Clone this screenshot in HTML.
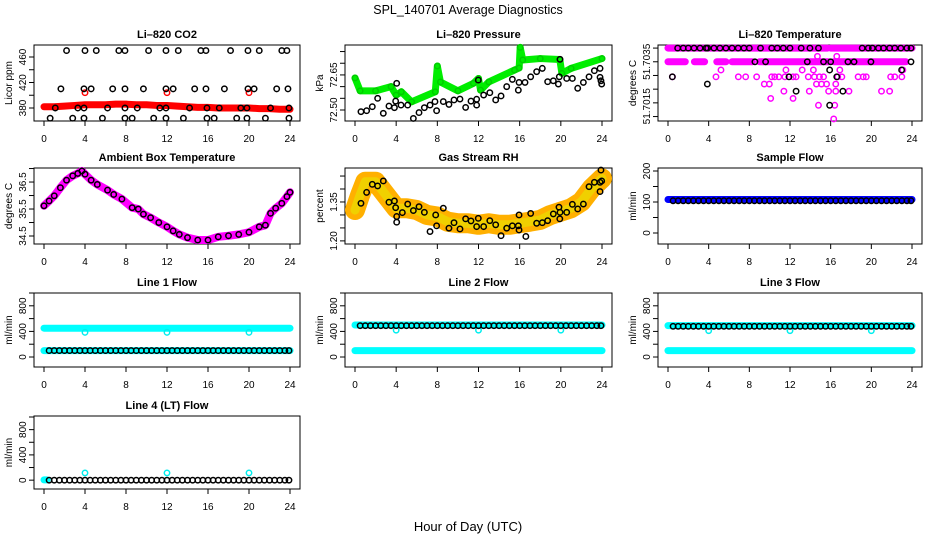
<!DOCTYPE html>
<html><head><meta charset="utf-8"><title>SPL_140701 Average Diagnostics</title>
<style>
html,body{margin:0;padding:0;background:#fff;}
svg{display:block;font-family:"Liberation Sans",Arial,sans-serif;}
</style></head>
<body>
<svg id="chart" width="936" height="540" viewBox="0 0 936 540" xmlns="http://www.w3.org/2000/svg">
<rect x="0" y="0" width="936" height="540" fill="#fff"/>
<text x="468" y="14" font-size="12.5" text-anchor="middle">SPL_140701  Average Diagnostics</text>
<text x="468" y="531" font-size="13" text-anchor="middle">Hour of Day (UTC)</text>
</svg>
<script>
// ---------- DATA ----------
// CO2
const co2RedHours = [0,1,2,3,4,5,6,7,8,9,10,11,12,13,14,15,16,17,18,19,20,21,22,23,24];
const co2RedVals = [382,382,383,384,385,385,385,386,386,385,385,384,384,383,382,381,381,380,380,380,380,379,379,378,378];
const co2RedPtHours = [4,12,20];
const co2RedPtVals = [404,404,404];
const co2BlackHours = [2.2,4.0,5.1,7.3,7.9,10.2,11.9,13.1,15.3,15.8,18.2,19.9,21.0,23.2,23.7,
 1.65,3.9,4.6,6.7,7.9,9.7,11.9,12.6,14.7,15.8,17.6,19.9,20.5,22.7,23.8,
 1.1,3.3,3.9,6.2,7.9,9.1,11.3,11.9,14.2,15.9,17.1,19.2,19.8,22.1,23.9,
 0.6,2.8,3.9,5.7,7.9,8.6,10.7,11.9,13.6,15.9,16.6,18.8,19.8,21.6,23.9];
const co2BlackVals = [470,470,470,470,470,470,470,470,470,470,470,470,470,470,470,
 410,410,410,410,410,410,410,410,410,410,410,410,410,410,410,
 380,380,380,380,380,380,380,380,380,380,380,380,380,380,380,
 364,364,364,364,364,364,364,364,364,364,364,364,364,364,364];
// Pressure
const presGreenHours = [0,0.5,2,3.5,4,4.5,5.5,7.8,8.0,8.3,10,11.5,12,12.2,13,15.5,15.95,16.05,16.3,18,19.9,20.1,21,24];
const presGreenVals = [72.637,72.582,72.582,72.60,72.564,72.578,72.535,72.578,72.688,72.62,72.582,72.614,72.635,72.585,72.62,72.671,72.68,72.768,72.714,72.72,72.716,72.657,72.678,72.72];
const presBlackHours = [0.58,1.13,1.68,2.2,2.75,3.3,3.83,3.95,4.05,4.47,5.12,5.67,6.22,6.74,7.29,7.77,7.93,8.58,9.13,9.62,10.2,10.75,11.27,11.82,11.82,11.98,12.5,13.1,13.67,14.19,14.74,15.29,15.87,15.94,16.52,17.07,17.65,18.2,18.72,19.27,19.76,19.85,19.92,20.57,21.12,21.64,22.19,22.74,23.26,23.81,23.81,23.9,23.97];
const presBlackVals = [72.493,72.497,72.514,72.550,72.486,72.517,72.510,72.538,72.614,72.521,72.521,72.464,72.489,72.510,72.521,72.536,72.497,72.536,72.524,72.543,72.547,72.511,72.538,72.521,72.546,72.628,72.564,72.574,72.543,72.560,72.600,72.631,72.585,72.618,72.618,72.642,72.664,72.678,72.621,72.625,72.611,72.642,72.717,72.635,72.635,72.593,72.618,72.642,72.668,72.678,72.640,72.625,72.611];
// Temperature
const tempBandStart = [0,16.0,0,2.6,4.8,6.3,9.0,16.3];
const tempBandEnd = [15.7,24,1.7,3.6,5.7,8.3,15.8,23.4];
const tempBandVals = [51.7035,51.7035,51.7031,51.7031,51.7031,51.7031,51.7031,51.7031];
const tempPinkHours = [0.43,4.72,5.21,6.92,7.64,8.72,9.47,9.97,10.1,10.2,10.5,10.9,11.4,11.6,11.5,12.3,12.3,12.6,13.2,13.8,13.9,14.3,14.4,14.6,14.7,14.8,14.9,15.1,15.3,15.6,15.8,16.3,16.4,16.5,16.5,16.6,16.7,16.9,17.1,17.8,18.7,19.2,19.5,21.0,21.8,21.9,22.3,23.0,23.1];
const tempPinkVals = [51.70266,51.70266,51.70286,51.70266,51.70266,51.70266,51.70245,51.70245,51.70203,51.70266,51.70266,51.70266,51.70224,51.70286,51.70266,51.70266,51.70203,51.70266,51.70286,51.70266,51.70224,51.70286,51.70266,51.70245,51.70326,51.70183,51.70266,51.70245,51.70266,51.70245,51.70224,51.70143,51.70183,51.70245,51.70224,51.70326,51.70266,51.70286,51.70266,51.70224,51.70266,51.70266,51.70266,51.70224,51.70224,51.70266,51.70266,51.70266,51.70286];
const tempBlackHours = [0.95,1.5,2.0,2.56,3.15,3.74,3.9,4.52,5.11,5.7,6.3,6.9,7.47,8.0,9.1,10.2,10.75,11.34,12.0,13.1,13.96,14.8,19.1,19.7,20.1,20.7,21.2,21.8,22.3,22.9,23.5,23.9,
 0.43,3.87,8.55,9.6,11.9,12.6,13.7,15.3,15.9,16.0,15.9,16.6,17.2,17.7,18.3,19.96,22.98,23.9];
const tempBlackVals = [51.7035,51.7035,51.7035,51.7035,51.7035,51.7035,51.7035,51.7035,51.7035,51.7035,51.7035,51.7035,51.7035,51.7035,51.7035,51.7035,51.7035,51.7035,51.7035,51.7035,51.7035,51.7035,51.7035,51.7035,51.7035,51.7035,51.7035,51.7035,51.7035,51.7035,51.7035,51.7035,
 51.70266,51.70245,51.7031,51.7031,51.70266,51.70224,51.7031,51.7031,51.70286,51.7031,51.70183,51.70266,51.70224,51.7031,51.7031,51.7031,51.70286,51.7031];
// Ambient box temperature
const ambHours = [0,0.5,1,1.6,2.2,2.8,3.3,3.7,4.0,4.6,5.2,6.2,6.8,7.6,8.6,9.2,9.7,10.4,11.2,12,12.6,13.2,14,15,16,17,18,19,20,21,21.6,22.1,22.6,23.2,23.7,24];
const ambVals = [35.62,35.80,35.99,36.29,36.57,36.73,36.82,36.91,36.79,36.57,36.41,36.20,36.04,35.87,35.55,35.50,35.31,35.18,35.0,34.84,34.69,34.56,34.44,34.35,34.35,34.47,34.51,34.56,34.64,34.84,34.90,35.34,35.53,35.71,35.96,36.12];
// Gas stream RH
const rhBandHours = [0,0.5,1,2,3,4,5,6,7,8,9,10,11,12,13,14,15,16,17,18,19,20,21,22,23,24];
const rhBandVals = [1.319,1.377,1.428,1.428,1.377,1.326,1.326,1.319,1.30,1.294,1.274,1.268,1.268,1.262,1.268,1.262,1.262,1.268,1.274,1.281,1.30,1.313,1.326,1.351,1.403,1.441];
const rhBlackHours = [0.58,1.13,1.68,2.2,2.75,3.3,3.83,3.95,4.05,4.05,4.6,5.12,5.67,6.22,6.74,7.29,7.84,7.93,8.58,9.13,9.62,10.2,10.75,11.27,11.82,11.98,12.5,13.1,13.67,14.19,14.74,15.29,15.87,15.94,15.94,16.6,17.07,17.65,18.2,18.72,19.27,19.82,19.9,19.92,20.57,21.12,21.64,22.19,22.74,23.26,23.81,23.9,23.97,23.81];
const rhBlackVals = [1.345,1.387,1.418,1.412,1.431,1.349,1.354,1.328,1.294,1.272,1.309,1.342,1.317,1.332,1.310,1.236,1.300,1.258,1.326,1.249,1.270,1.246,1.285,1.277,1.255,1.287,1.255,1.278,1.262,1.220,1.249,1.258,1.258,1.242,1.300,1.217,1.306,1.268,1.270,1.278,1.304,1.330,1.285,1.310,1.310,1.341,1.323,1.342,1.409,1.426,1.426,1.473,1.431,1.390];
// Flows (shared hourly sample times)
const flowHours = [0.5,1,1.5,2,2.5,3,3.5,4,4.5,5,5.5,6,6.5,7,7.5,8,8.5,9,9.5,10,10.5,11,11.5,12,12.5,13,13.5,14,14.5,15,15.5,16,16.5,17,17.5,18,18.5,19,19.5,20,20.5,21,21.5,22,22.5,23,23.5,23.9];
const sampleBlack = [104,104,104,104,104,104,104,104,104,104,104,104,104,104,104,104,104,104,104,104,104,104,104,104,104,104,104,104,104,104,104,104,104,104,104,104,104,104,104,104,104,104,104,104,104,104,104,104];
const line1Black = [100,100,100,100,100,100,100,100,100,100,100,100,100,100,100,100,100,100,100,100,100,100,100,100,100,100,100,100,100,100,100,100,100,100,100,100,100,100,100,100,100,100,100,100,100,100,100,100];
const line2Black = [490,490,490,490,490,490,490,490,490,490,490,490,490,490,490,490,490,490,490,490,490,490,490,490,490,490,490,490,490,490,490,490,490,490,490,490,490,490,490,490,490,490,490,490,490,490,490,490];
const line3Black = [480,480,480,480,480,480,480,480,480,480,480,480,480,480,480,480,480,480,480,480,480,480,480,480,480,480,480,480,480,480,480,480,480,480,480,480,480,480,480,480,480,480,480,480,480,480,480,480];
const line4Black = [0,0,0,0,0,0,0,0,0,0,0,0,0,0,0,0,0,0,0,0,0,0,0,0,0,0,0,0,0,0,0,0,0,0,0,0,0,0,0,0,0,0,0,0,0,0,0,0];
const sampleBandStart = [0]; const sampleBandEnd = [24]; const sampleBandVals = [108];
const line1BandStart = [0,0]; const line1BandEnd = [24,24]; const line1BandVals = [450,100];
const line2BandStart = [0,0]; const line2BandEnd = [24,24]; const line2BandVals = [500,100];
const line3BandStart = [0,0]; const line3BandEnd = [24,24]; const line3BandVals = [490,100];
const line4BandStart = [0]; const line4BandEnd = [0.3]; const line4BandVals = [5];
const calHours = [4,12,20];
const line1Cal = [385,385,385];
const line2Cal = [420,420,420];
const line3Cal = [412,412,412];
const line4Cal = [115,115,115];
const xTicks = [0,4,8,12,16,20,24];

// ---------- DRAWING ----------
const NS = 'http://www.w3.org/2000/svg';
const svg = document.getElementById('chart');
function mk(tag, attrs, parent){
  const e = document.createElementNS(NS, tag);
  for (const k in attrs) e.setAttribute(k, attrs[k]);
  (parent || svg).appendChild(e);
  return e;
}
const cols = [[34,300],[345,612],[658,922]];
const rows = [[45,121],[168,244],[293,367],[416,489]];

function panel(cfg){
  const [L,R] = cols[cfg.col]; const [T,B] = rows[cfg.row];
  const g = mk('g', {});
  
  
  const sx = h => (L+10) + h*(R-L-20)/24;
  const sy = v => B - (v - cfg.ydom[0])*(B-T)/(cfg.ydom[1]-cfg.ydom[0]);
  const box = mk('rect', {x:L, y:T, width:R-L, height:B-T, fill:'none', stroke:'#000', 'stroke-width':1}, g);
  
  
  const title = mk('text', {x:(L+R)/2, y:T-7, 'font-size':11, 'font-weight':'bold', 'text-anchor':'middle'}, g);
  title.textContent = cfg.title;
  
  
  xTicks.forEach(t => {
    const tk = mk('line', {x1:sx(t), x2:sx(t), y1:B, y2:B+5, stroke:'#000'}, g);
    
    
    const tl = mk('text', {x:sx(t), y:B+21, 'font-size':10, 'text-anchor':'middle'}, g);
    tl.textContent = t;
    
    
  });
  cfg.yticks.forEach(v => {
    const tk = mk('line', {x1:L-5, x2:L, y1:sy(v), y2:sy(v), stroke:'#000'}, g);
    
    
  });
  cfg.ylabelVals.forEach((v,i) => {
    const y = sy(v);
    const tl = mk('text', {x:L-8, y:y, 'font-size':10, 'text-anchor':'middle', transform:'rotate(-90 '+(L-8)+' '+y+')'}, g);
    tl.textContent = cfg.ylabelText[i];
    
    
  });
  const cy = (T+B)/2;
  const yl = mk('text', {x:L-22, y:cy, 'font-size':10, 'text-anchor':'middle', transform:'rotate(-90 '+(L-22)+' '+cy+')'}, g);
  yl.textContent = cfg.ylab;
  
  
  const clipId = 'clip-' + cfg.name;
  const cp = mk('clipPath', {id:clipId}, g);
  mk('rect', {x:L, y:T-4, width:R-L, height:B-T+8}, cp);
  const plot = mk('g', {'clip-path':'url(#'+clipId+')'}, g);
  return {sx, sy, g:plot};
}
function points(p, hrs, vals, color, name){
  hrs.forEach((h,i) => {
    const c = mk('circle', {cx:p.sx(h), cy:p.sy(vals[i]), r:2.7, fill:'none', stroke:color, 'stroke-width':1.5}, p.g);
    
    
  });
}
function band(p, hrs, vals, color, w, name){
  const pts = hrs.map((h,i) => p.sx(h)+','+p.sy(vals[i])).join(' ');
  const pl = mk('polyline', {points:pts, fill:'none', stroke:color, 'stroke-width':w, 'stroke-linecap':'round', 'stroke-linejoin':'round'}, p.g);
  
  
}
function segs(p, st, en, vals, color, w, name){
  st.forEach((s,i) => {
    const l = mk('line', {x1:p.sx(s), x2:p.sx(en[i]), y1:p.sy(vals[i]), y2:p.sy(vals[i]), stroke:color, 'stroke-width':w, 'stroke-linecap':'round'}, p.g);
    
    
  });
}

// Panel 1: CO2
const p1 = panel({name:'co2', col:0, row:0, title:'Li\u2013820 CO2', ylab:'Licor ppm', ydom:[359.6,478.8], yticks:[380,400,420,440,460], ylabelVals:[380,420,460], ylabelText:['380','420','460']});
band(p1, co2RedHours, co2RedVals, '#ff0000', 7, 'co2-raw-band');
points(p1, co2RedPtHours, co2RedPtVals, '#ff0000', 'co2-raw-point');
points(p1, co2BlackHours, co2BlackVals, '#000', 'co2-average-point');

// Panel 2: Pressure
const p2 = panel({name:'pressure', col:1, row:0, title:'Li\u2013820 Pressure', ylab:'kPa', ydom:[72.453,72.778], yticks:[72.50,72.55,72.60,72.65,72.70,72.75], ylabelVals:[72.50,72.65], ylabelText:['72.50','72.65']});
band(p2, presGreenHours, presGreenVals, '#00ee00', 7, 'pressure-raw-band');
points(p2, presGreenHours, presGreenVals, '#00cc00', 'pressure-raw-point');
points(p2, presBlackHours, presBlackVals, '#000', 'pressure-average-point');

// Panel 3: Temperature
const p3 = panel({name:'temperature', col:2, row:0, title:'Li\u2013820 Temperature', ylab:'degrees C', ydom:[51.70137,51.70359], yticks:[51.7035,51.7031,51.7027,51.7023,51.7019,51.7015], ylabelVals:[51.7031,51.7018], ylabelText:['51.7035','51.7015']});
segs(p3, tempBandStart, tempBandEnd, tempBandVals, '#ff00ff', 7, 'temperature-raw-band');
points(p3, tempPinkHours, tempPinkVals, '#ff00ff', 'temperature-raw-point');
points(p3, tempBlackHours, tempBlackVals, '#000', 'temperature-average-point');

// Panel 4: Ambient
const p4 = panel({name:'ambient', col:0, row:1, title:'Ambient Box Temperature', ylab:'degrees C', ydom:[34.204,37.02], yticks:[34.5,35,35.5,36,36.5,37], ylabelVals:[34.5,35.5,36.5], ylabelText:['34.5','35.5','36.5']});
band(p4, ambHours, ambVals, '#ff00ff', 8, 'ambient-raw-band');
points(p4, ambHours, ambVals, '#000', 'ambient-average-point');

// Panel 5: RH
const p5 = panel({name:'rh', col:1, row:1, title:'Gas Stream RH', ylab:'percent', ydom:[1.188,1.481], yticks:[1.20,1.25,1.30,1.35,1.40,1.45], ylabelVals:[1.20,1.35], ylabelText:['1.20','1.35']});
band(p5, rhBandHours, rhBandVals, '#ffb000', 20, 'rh-raw-band');
band(p5, rhBandHours, rhBandVals, '#f0d000', 9, 'rh-raw-band-core');
points(p5, rhBlackHours, rhBlackVals, '#000', 'rh-average-point');

// Panel 6: Sample flow
const p6 = panel({name:'sample-flow', col:2, row:1, title:'Sample Flow', ylab:'ml/min', ydom:[-35.5,209.7], yticks:[0,50,100,150,200], ylabelVals:[0,100,200], ylabelText:['0','100','200']});
segs(p6, sampleBandStart, sampleBandEnd, sampleBandVals, '#0000ff', 7, 'sample-flow-raw-band');
points(p6, flowHours, sampleBlack, '#000', 'sample-flow-average-point');

// Panels 7-10: Line flows
const flowTicks = [0,200,400,600,800,1000];
const p7 = panel({name:'line1-flow', col:0, row:2, title:'Line 1 Flow', ylab:'ml/min', ydom:[-156,1000], yticks:flowTicks, ylabelVals:[0,400,800], ylabelText:['0','400','800']});
segs(p7, line1BandStart, line1BandEnd, line1BandVals, '#00ffff', 7, 'line1-raw-band');
points(p7, calHours, line1Cal, '#00eeee', 'line1-cal-point');
points(p7, flowHours, line1Black, '#000', 'line1-average-point');

const p8 = panel({name:'line2-flow', col:1, row:2, title:'Line 2 Flow', ylab:'ml/min', ydom:[-156,1000], yticks:flowTicks, ylabelVals:[0,400,800], ylabelText:['0','400','800']});
segs(p8, line2BandStart, line2BandEnd, line2BandVals, '#00ffff', 7, 'line2-raw-band');
points(p8, calHours, line2Cal, '#00eeee', 'line2-cal-point');
points(p8, flowHours, line2Black, '#000', 'line2-average-point');

const p9 = panel({name:'line3-flow', col:2, row:2, title:'Line 3 Flow', ylab:'ml/min', ydom:[-156,1000], yticks:flowTicks, ylabelVals:[0,400,800], ylabelText:['0','400','800']});
segs(p9, line3BandStart, line3BandEnd, line3BandVals, '#00ffff', 7, 'line3-raw-band');
points(p9, calHours, line3Cal, '#00eeee', 'line3-cal-point');
points(p9, flowHours, line3Black, '#000', 'line3-average-point');

const p10 = panel({name:'line4-flow', col:0, row:3, title:'Line 4 (LT) Flow', ylab:'ml/min', ydom:[-140,1016], yticks:flowTicks, ylabelVals:[0,400,800], ylabelText:['0','400','800']});
segs(p10, line4BandStart, line4BandEnd, line4BandVals, '#00ffff', 7, 'line4-raw-band');
points(p10, calHours, line4Cal, '#00eeee', 'line4-cal-point');
points(p10, flowHours, line4Black, '#000', 'line4-average-point');
</script>
</body></html>
